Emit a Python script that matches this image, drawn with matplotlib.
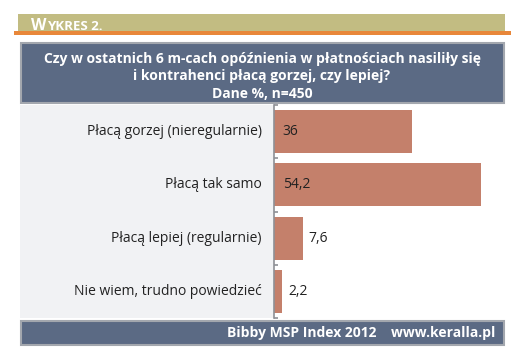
import matplotlib
matplotlib.use("Agg")
import matplotlib.pyplot as plt
from matplotlib.patches import Rectangle

categories = ["Płacą gorzej (nieregularnie)", "Płacą tak samo",
              "Płacą lepiej (regularnie)", "Nie wiem, trudno powiedzieć"]
values = [36, 54.2, 7.6, 2.2]
value_labels = ["36", "54,2", "7,6", "2,2"]
title_lines = ["Czy w ostatnich 6 m-cach opóźnienia w płatnościach nasiliły się",
               "i kontrahenci płacą gorzej, czy lepiej?",
               "Dane %, n=450"]
header_first, header_rest = "W", "YKRES 2."
footer = "Bibby MSP Index 2012    www.keralla.pl"

plt.rcParams['font.family'] = ['Open Sans', 'DejaVu Sans']

W, H = 525, 356
fig = plt.figure(figsize=(W / 100, H / 100), dpi=100)
fig.patch.set_facecolor("white")

def fx(px):
    return px / W

def fy(py):
    return 1 - py / H

def rect(x0, y0, x1, y1, **kw):
    fig.patches.append(Rectangle((fx(x0), fy(y1)), fx(x1) - fx(x0), fy(y0) - fy(y1),
                                 transform=fig.transFigure, **kw))

# header band
rect(18, 14, 505, 32, facecolor="#C2BC82", edgecolor="none", zorder=-2)
rect(14, 31, 511, 34.5, facecolor="#E8873A", edgecolor="none", zorder=-1)
renderer = fig.canvas.get_renderer()
t1 = fig.text(fx(31), fy(30), header_first, color="white", fontsize=11.5, fontweight="bold",
              va="baseline", ha="left", zorder=2)
bb = t1.get_window_extent(renderer)
fig.text((bb.x1 + 0.5) / W, fy(30), header_rest, color="white", fontsize=9.5, fontweight="bold",
         va="baseline", ha="left", zorder=2)

# title box
rect(20.5, 43.5, 503.5, 103, facecolor="#5B6A84", edgecolor="#A3A7AE", linewidth=1.5, zorder=-2)
for i, line in enumerate(title_lines):
    fig.text(fx(262), fy(58.5 + i * 17.5), line, color="white", fontsize=10,
             fontweight="bold", ha="center", va="center")

# left grey panel
rect(20, 105, 274, 318, facecolor="#F1F2F4", edgecolor="none", zorder=-2)

# footer
rect(20.5, 320.5, 503.5, 345, facecolor="#5B6A84", edgecolor="#A3A7AE", linewidth=1.5, zorder=-2)
fig.text(fx(495), fy(333), footer, color="white", fontsize=10, fontweight="bold",
         ha="right", va="center")

# bar axes
ax = fig.add_axes([fx(274), fy(318), fx(504) - fx(274), fy(105) - fy(318)])
ax.set_zorder(1)
ax.set_facecolor("none")
ypos = list(range(len(categories)))
ax.barh(ypos, values, height=0.81, color="#C4806B", edgecolor="none")
ax.set_xlim(0, 60.2)
ax.set_ylim(len(categories) - 0.5, -0.5)
for s in ["top", "right", "bottom"]:
    ax.spines[s].set_visible(False)
ax.spines["left"].set_color("#8E9096")
ax.spines["left"].set_linewidth(1.2)
ax.set_xticks([])
ax.set_yticks([i - 0.5 for i in range(len(categories) + 1)])
ax.tick_params(axis="y", direction="in", length=3, color="#8E9096", width=1.2, labelleft=False)

for i, (v, lab, cat) in enumerate(zip(values, value_labels, categories)):
    if v > 10:
        ax.text(2.3, i, lab, ha="left", va="center", fontsize=10, color="#222222")
    else:
        ax.text(v + 1.5, i, lab, ha="left", va="center", fontsize=10, color="#222222")
    ax.text(-3.2, i, cat, ha="right", va="center", fontsize=10, color="#222222",
            clip_on=False)

fig.savefig("out.png", dpi=100, facecolor="white")
